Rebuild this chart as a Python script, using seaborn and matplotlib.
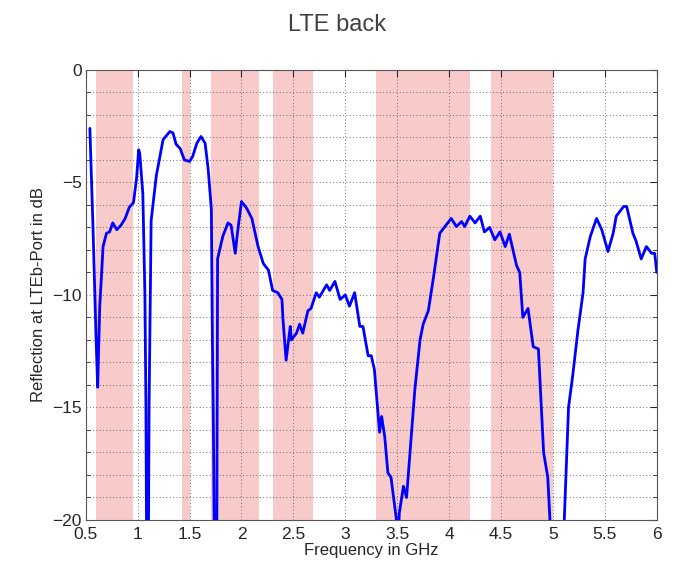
import numpy as np
import pandas as pd
import matplotlib
matplotlib.use("Agg")
import matplotlib.pyplot as plt
import seaborn as sns
from matplotlib.ticker import MultipleLocator

# frequency (GHz) and reflection (dB); -25 = off the bottom
freq = [0.54, 0.57, 0.60, 0.615, 0.635, 0.65, 0.667, 0.70, 0.73, 0.76, 0.80, 0.84,
        0.88, 0.92, 0.96, 0.99, 1.01, 1.02, 1.05, 1.07, 1.08, 1.09, 1.10, 1.11,
        1.13, 1.18, 1.245, 1.31, 1.34, 1.37, 1.41, 1.45, 1.50, 1.53, 1.57, 1.61,
        1.65, 1.68, 1.71, 1.72, 1.73, 1.745, 1.76, 1.77, 1.82, 1.87, 1.90, 1.94,
        1.96, 2.00, 2.05, 2.10, 2.16, 2.21, 2.26, 2.30, 2.35, 2.39, 2.40, 2.43,
        2.47, 2.48, 2.53, 2.56, 2.59, 2.64, 2.67, 2.72, 2.75, 2.82, 2.85, 2.90,
        2.95, 3.00, 3.04, 3.09, 3.14, 3.17, 3.22, 3.25, 3.28, 3.33, 3.35, 3.38,
        3.41, 3.44, 3.49, 3.505, 3.52, 3.56, 3.59, 3.64, 3.67, 3.72, 3.75, 3.80,
        3.85, 3.91, 3.96, 4.02, 4.07, 4.12, 4.15, 4.20, 4.25, 4.30, 4.34, 4.39,
        4.44, 4.49, 4.54, 4.58, 4.65, 4.68, 4.71, 4.76, 4.81, 4.86, 4.91, 4.95,
        4.97, 5.00, 5.08, 5.11, 5.15, 5.19, 5.24, 5.29, 5.31, 5.36, 5.42, 5.47,
        5.53, 5.58, 5.61, 5.68, 5.71, 5.77, 5.80, 5.85, 5.90, 5.95, 5.98, 6.00]
refl = [-2.6, -7.0, -12.0, -14.1, -10.5, -9.3, -7.85, -7.26, -7.2, -6.8, -7.1, -6.9,
        -6.6, -6.1, -5.9, -4.8, -3.55, -3.7, -5.5, -10.0, -15.0, -25.0, -25.0, -15.0,
        -6.7, -4.7, -3.1, -2.74, -2.8, -3.3, -3.5, -4.0, -4.07, -3.85, -3.26, -2.96,
        -3.26, -4.44, -6.2, -12.0, -16.0, -25.0, -25.0, -8.4, -7.4, -6.8, -6.9, -8.15,
        -7.3, -5.85, -6.15, -6.6, -7.85, -8.6, -8.9, -9.8, -9.9, -10.2, -11.1, -12.9,
        -11.4, -12.0, -11.7, -11.3, -11.7, -10.7, -10.6, -9.9, -10.1, -9.55, -9.8, -9.4,
        -10.2, -10.0, -10.5, -9.9, -11.4, -11.4, -12.7, -12.7, -13.3, -16.1, -15.4, -16.3,
        -17.9, -18.1, -19.9, -22.0, -19.7, -18.5, -19.0, -16.0, -14.2, -12.0, -11.3, -10.7,
        -9.2, -7.26, -6.96, -6.6, -6.96, -6.74, -6.96, -6.5, -6.8, -6.5, -7.2, -7.0,
        -7.55, -7.2, -7.85, -7.3, -8.7, -9.0, -11.0, -10.6, -12.3, -12.4, -17.0, -18.1,
        -19.9, -25.0, -25.0, -19.9, -15.0, -13.6, -11.6, -9.9, -8.4, -7.4, -6.6, -7.1,
        -8.07, -7.26, -6.5, -6.07, -6.07, -7.26, -7.6, -8.4, -7.85, -8.15, -8.15, -9.0]

# LTE frequency bands (GHz)
band_lo = [0.60, 1.43, 1.71, 2.30, 3.30, 4.40]
band_hi = [0.96, 1.50, 2.17, 2.69, 4.20, 5.00]

df = pd.DataFrame({"freq": freq, "refl": refl})

sns.set_style("white")
plt.rcParams["font.family"] = ["Liberation Sans", "DejaVu Sans"]

fig = plt.figure(figsize=(6.75, 5.68), dpi=100)
ax = fig.add_axes([0.127, 0.0845, 0.846, 0.7925])

for lo, hi in zip(band_lo, band_hi):
    ax.axvspan(lo, hi, color="#f9caca", lw=0, zorder=0)

sns.lineplot(data=df, x="freq", y="refl", color="#0000ff", lw=2, ax=ax, zorder=3)

ax.set_xlim(0.5, 6)
ax.set_ylim(-20, 0)
ax.xaxis.set_major_locator(MultipleLocator(0.5))
ax.yaxis.set_major_locator(MultipleLocator(5))
ax.yaxis.set_minor_locator(MultipleLocator(1))
ax.set_xticklabels([("%g" % v) for v in ax.get_xticks()])
ax.grid(True, which="major", axis="x", ls=(0, (1, 3)), color="#444444", lw=0.6)
ax.grid(True, which="both", axis="y", ls=(0, (1, 3)), color="#444444", lw=0.6)
ax.tick_params(direction="in", top=True, right=True, length=5, labelsize=12.5)
ax.tick_params(axis="x", pad=5)
ax.tick_params(axis="y", pad=3)
ax.tick_params(which="minor", direction="in", left=True, right=True, length=3)
for s in ax.spines.values():
    s.set_color("#555555")
    s.set_linewidth(0.8)

ax.set_xlabel("Frequency in GHz", fontsize=12, labelpad=1)
ax.set_ylabel("Reflection at LTEb-Port in dB", fontsize=12, labelpad=4)
fig.suptitle("LTE back", fontsize=17, color="#404040", y=0.975)

fig.savefig("out.png", dpi=100)
